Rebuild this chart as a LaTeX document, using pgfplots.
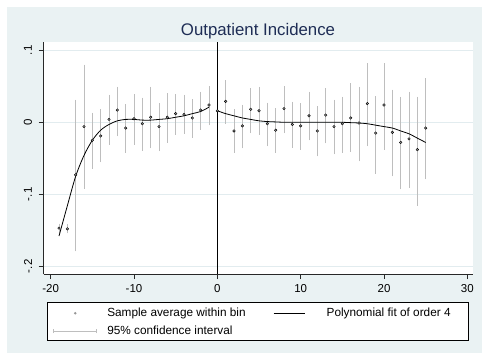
\documentclass[border=0pt]{standalone}
\usepackage{pgfplots}
\pgfplotsset{compat=1.18}
\usepackage{pgfplotstable}
\usepackage{fontspec}
\setmainfont{Liberation Sans}

\definecolor{bgcol}{RGB}{234,242,243}
\definecolor{gridcol}{RGB}{226,236,239}
\definecolor{titlecol}{RGB}{30,45,85}
\definecolor{axiscol}{RGB}{40,40,40}
\definecolor{ptcol}{RGB}{150,150,150}
\definecolor{cicol}{RGB}{190,190,190}

\pgfplotstableread{
x y lo hi
-19 -0.147 -0.150 -0.144
-18 -0.148 -0.151 -0.145
-17 -0.073 -0.176 0.028
-16 -0.006 -0.089 0.077
-15 -0.025 -0.061 0.010
-14 -0.019 -0.052 0.015
-13 0.004 -0.028 0.035
-12 0.017 -0.016 0.046
-11 -0.008 -0.039 0.022
-10 0.005 -0.028 0.036
-9 -0.002 -0.036 0.031
-8 0.007 -0.033 0.046
-7 -0.006 -0.037 0.023
-6 0.007 -0.025 0.037
-5 0.012 -0.014 0.036
-4 0.011 -0.013 0.035
-3 0.006 -0.018 0.029
-2 0.017 -0.007 0.039
-1 0.024 -0.001 0.047
}\leftbins

\pgfplotstableread{
x y lo hi
0 0.016 -0.011 0.040
1 0.029 0.001 0.055
2 -0.012 -0.039 0.015
3 -0.005 -0.033 0.021
4 0.018 -0.012 0.044
5 0.016 -0.014 0.046
6 -0.002 -0.030 0.024
7 -0.011 -0.039 0.016
8 0.019 -0.012 0.047
9 -0.003 -0.032 0.025
10 -0.005 -0.035 0.023
11 0.009 -0.022 0.039
12 -0.012 -0.044 0.019
13 0.010 -0.026 0.044
14 -0.006 -0.041 0.028
15 -0.002 -0.039 0.032
16 0.006 -0.038 0.051
17 -0.001 -0.051 0.046
18 0.026 -0.030 0.079
19 -0.015 -0.068 0.033
20 0.024 -0.035 0.079
21 -0.014 -0.072 0.042
22 -0.028 -0.090 0.032
23 -0.023 -0.088 0.039
24 -0.038 -0.113 0.032
25 -0.008 -0.076 0.058
}\rightbins

\pgfplotstableread{
x y
-19 -0.158
-18 -0.116
-17 -0.075
-16 -0.046
-15 -0.025
-14 -0.011
-13 -0.003
-12 0.002
-11 0.004
-10 0.004
-9 0.003
-8 0.003
-7 0.004
-6 0.005
-5 0.007
-4 0.009
-3 0.012
-2 0.015
-1 0.021
}\leftfit

\pgfplotstableread{
x y
0 0.016
1 0.012
2 0.009
3 0.006
4 0.004
5 0.002
6 0.001
7 0.0005
8 0.0
9 0.0
10 0.0
11 0.0
12 0.0
13 0.0
14 0.0
15 0.0
16 -0.0005
17 -0.001
18 -0.002
19 -0.004
20 -0.006
21 -0.008
22 -0.012
23 -0.016
24 -0.022
25 -0.028
}\rightfit

\begin{document}
\begin{tikzpicture}
\useasboundingbox (0,0) rectangle (482bp,353bp);
\fill[white] (0,0) rectangle (482bp,353bp);
\fill[bgcol] (7bp,0) rectangle (482bp,346bp);
\begin{axis}[
  at={(43.5bp,79bp)}, anchor=south west,
  scale only axis, width=429bp, height=232bp,
  xmin=-20.86, xmax=30.62, ymin=-0.2107, ymax=0.1115,
  axis background/.style={fill=white},
  axis x line*=bottom, axis y line*=left,
  axis line style={-, draw=axiscol, line width=0.6bp},
  xtick={-20,-10,0,10,20,30}, xticklabels={-20,-10,0,10,20,30},
  ytick={-0.2,-0.1,0,0.1}, yticklabels={-.2,-.1,0,.1},
  tick align=outside, major tick length=5bp,
  tick style={draw=axiscol, line width=0.6bp},
  ymajorgrids, grid style={draw=gridcol, line width=0.6bp},
  /pgf/number format/assume math mode=true,
  tick label style={font=\fontsize{11.5bp}{13bp}\selectfont, text=black},
  xticklabel style={anchor=base, yshift=-13.3bp},
  yticklabel style={xshift=-10.5bp, rotate=90, anchor=center},
  every axis title/.style={at={(0.5,1)}, anchor=base, yshift=6bp,
     font=\fontsize{16.8bp}{20bp}\selectfont, text=titlecol},
  title={Outpatient Incidence},
  legend columns=2, legend cell align=left,
  legend style={at={(axis description cs:0.00886,-0.1194)}, anchor=north west,
     draw=black, line width=0.5bp, fill=white, inner xsep=0pt, inner ysep=1.45bp,
     row sep=0pt, column sep=0pt, font=\fontsize{11.8bp}{14bp}\selectfont,
     text=black, nodes={inner sep=0pt}},
]
% confidence intervals
\addplot[draw=none, mark=none, forget plot,
  error bars/.cd, y dir=both, y explicit, error mark=-,
  error bar style={draw=cicol, line width=0.7bp},
  error mark options={draw=cicol, mark size=2.3bp, line width=0.7bp}]
  table[x=x, y=y, y error plus expr=\thisrow{hi}-\thisrow{y}, y error minus expr=\thisrow{y}-\thisrow{lo}] {\leftbins};
\addplot[draw=none, mark=none, forget plot,
  error bars/.cd, y dir=both, y explicit, error mark=-,
  error bar style={draw=cicol, line width=0.7bp},
  error mark options={draw=cicol, mark size=2.3bp, line width=0.7bp}]
  table[x=x, y=y, y error plus expr=\thisrow{hi}-\thisrow{y}, y error minus expr=\thisrow{y}-\thisrow{lo}] {\rightbins};
% bin averages
\addplot[only marks, mark=*, mark size=1.3bp, mark options={draw=none, fill=ptcol}, forget plot]
  table[x=x, y=y] {\leftbins};
\addplot[only marks, mark=*, mark size=1.3bp, mark options={draw=none, fill=ptcol}, forget plot]
  table[x=x, y=y] {\rightbins};
% polynomial fits
\addplot[black, line width=0.8bp, smooth, forget plot] table[x=x, y=y] {\leftfit};
\addplot[black, line width=0.8bp, smooth, forget plot] table[x=x, y=y] {\rightfit};
% cutoff line
\draw[black, line width=0.8bp] (axis cs:0,-0.2107) -- (axis cs:0,0.1115);
% legend
\addlegendimage{legend image code/.code={
  \path[draw=none, fill=none] (-5.7bp,-7.85bp) rectangle (54bp,9.85bp);
  \fill[ptcol, draw=none] (22bp,0) circle (1.3bp);}}
\addlegendentry{Sample average within bin}
\addlegendimage{legend image code/.code={
  \path[draw=none, fill=none] (-28bp,-7.85bp) rectangle (53bp,9.85bp);
  \draw[black, fill=none, line width=0.8bp] (0,0) -- (31bp,0);}}
\addlegendentry{Polynomial fit of order 4\rule{17.3bp}{0pt}}
\addlegendimage{legend image code/.code={
  \path[draw=none, fill=none] (-5.7bp,-7.85bp) rectangle (54bp,9.85bp);
  \draw[cicol, fill=none, line width=0.7bp] (0,0) -- (43.5bp,0) (0,-2.2bp) -- (0,2.2bp) (43.5bp,-2.2bp) -- (43.5bp,2.2bp);}}
\addlegendentry{95\% confidence interval}
\end{axis}
\end{tikzpicture}
\end{document}
